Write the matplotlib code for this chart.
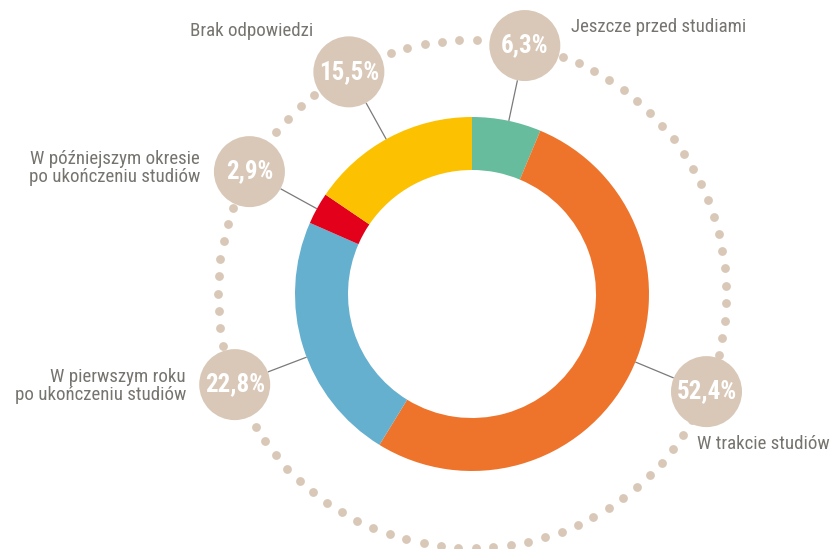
import numpy as np
import matplotlib
matplotlib.use("Agg")
import matplotlib.pyplot as plt
from matplotlib import font_manager as fm
from matplotlib.patches import Circle

# ---------------- data ----------------
categories = [
    "Jeszcze przed studiami",
    "W trakcie studiów",
    "W pierwszym roku\npo ukończeniu studiów",
    "W późniejszym okresie\npo ukończeniu studiów",
    "Brak odpowiedzi",
]
values = [6.3, 52.4, 22.8, 2.9, 15.5]
colors = ["#66bc9c", "#ee742c", "#65afcf", "#e2001a", "#fcc100"]

# ---------------- layout (pixels, image coords) ----------------
W, H = 832, 549
CX, CY = 472, 294
R_OUT, R_IN = 177, 124
R_RING = 254
BUBBLE_R = 35.5
bubble_angles = [78.0, 337.4, 200.9, 151.2, 119.0]
label_pos = [(571, 27), (697, 444), (186, 386), (200, 168), (313, 31)]
label_ha = ["left", "left", "right", "right", "right"]


def pick(cands):
    for c in cands:
        try:
            fm.findfont(fm.FontProperties(family=c), fallback_to_default=False)
            return c
        except Exception:
            pass
    return "DejaVu Sans"


FONT = pick(["Liberation Sans Narrow", "Roboto Condensed", "Open Sans Condensed", "Noto Sans"])
narrow = FONT in ("Liberation Sans Narrow", "Roboto Condensed", "Open Sans Condensed")
LBL_SIZE = 13.6 if narrow else 11.5
VAL_SIZE = 18 if narrow else 15

TEXT_GRAY = "#76746f"
BUBBLE = "#d9c8b7"
LINE = "#7a7a7a"

fig = plt.figure(figsize=(W / 100, H / 100), dpi=100)
ax = fig.add_axes([0, 0, 1, 1])


def P(px, py):
    return px - CX, CY - py


ax.pie(values, colors=colors, startangle=90, counterclock=False,
       radius=R_OUT, center=(0, 0),
       wedgeprops=dict(width=R_OUT - R_IN, linewidth=0, antialiased=True))

# dotted ring
n_dots = 91
ang = np.deg2rad(88.9 + np.arange(n_dots) * 360.0 / n_dots)
ax.scatter(R_RING * np.cos(ang), R_RING * np.sin(ang), s=40, color=BUBBLE,
           linewidths=0, zorder=2)

for i, v in enumerate(values):
    a = np.deg2rad(bubble_angles[i])
    bx, by = R_RING * np.cos(a), R_RING * np.sin(a)
    # leader line
    r0, r1 = R_OUT, R_RING - BUBBLE_R
    ax.plot([r0 * np.cos(a), r1 * np.cos(a)], [r0 * np.sin(a), r1 * np.sin(a)],
            color=LINE, lw=0.9, zorder=3, solid_capstyle="butt")
    ax.add_patch(Circle((bx, by), BUBBLE_R, color=BUBBLE, lw=0, zorder=4))
    txt = f"{v:.1f}".replace(".", ",") + "%"
    ax.text(bx, by, txt, ha="center", va="center", color="white",
            fontsize=VAL_SIZE, fontweight="bold", family=FONT, zorder=5)
    lx, ly = P(*label_pos[i])
    ax.text(lx, ly, categories[i], ha=label_ha[i], va="center",
            multialignment=label_ha[i], color=TEXT_GRAY, fontsize=LBL_SIZE,
            family=FONT, linespacing=1.05, zorder=5)

ax.set_xlim(-CX, W - CX)
ax.set_ylim(-(H - CY), CY)
ax.set_aspect("equal")
ax.axis("off")

fig.savefig("out.png", dpi=100)
